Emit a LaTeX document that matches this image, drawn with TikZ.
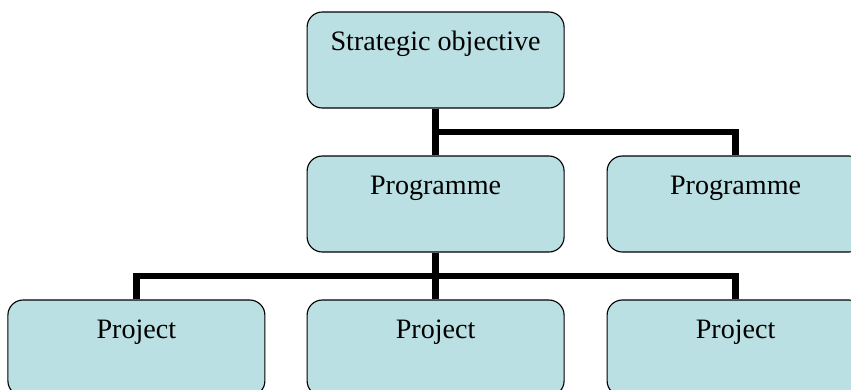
\documentclass[tikz,border=0pt]{standalone}
\usepackage{fontspec}
\setmainfont{Liberation Serif}
\usepackage{tikz}
\usepackage{xcolor}
\usetikzlibrary{calc}
\definecolor{boxaqua}{HTML}{BBE0E3}

\begin{document}
\begin{tikzpicture}[every node/.style={font=\fontsize{20}{24}\selectfont},
  unit/.style={draw, line width=0.8pt, fill=boxaqua, rounded corners=0.38cm,
    minimum width=6.425cm, inner xsep=0pt, inner ysep=0pt,
    text height=0.95cm, text depth=1.45cm},
  bus/.style={line width=4.5pt}]
  \useasboundingbox (0,0) rectangle (21.275,-9.725);
  \node[unit] (top) at (10.89, -1.5) {Strategic objective};
  \node[unit] (prog1) at (10.89, -5.1) {Programme};
  \node[unit] (prog2) at (18.39, -5.1) {Programme};
  \foreach \i/\x in {1/3.41, 2/10.89, 3/18.39} {
    \node[unit] (proj\i) at (\x, -8.7) {Project};
  }
  % objective down to the programmes
  \coordinate (upbus) at ($(top.south)!0.5!(prog1.north)$);
  \draw[bus] (top) -- (prog1);
  \draw[bus] (upbus) -| (prog2.north);
  % programme down to the projects
  \coordinate (lowbus) at ($(prog1.south)!0.5!(proj2.north)$);
  \draw[bus] (prog1) -- (proj2);
  \draw[bus] (proj1.north) |- (lowbus) -| (proj3.north);
\end{tikzpicture}
\end{document}
